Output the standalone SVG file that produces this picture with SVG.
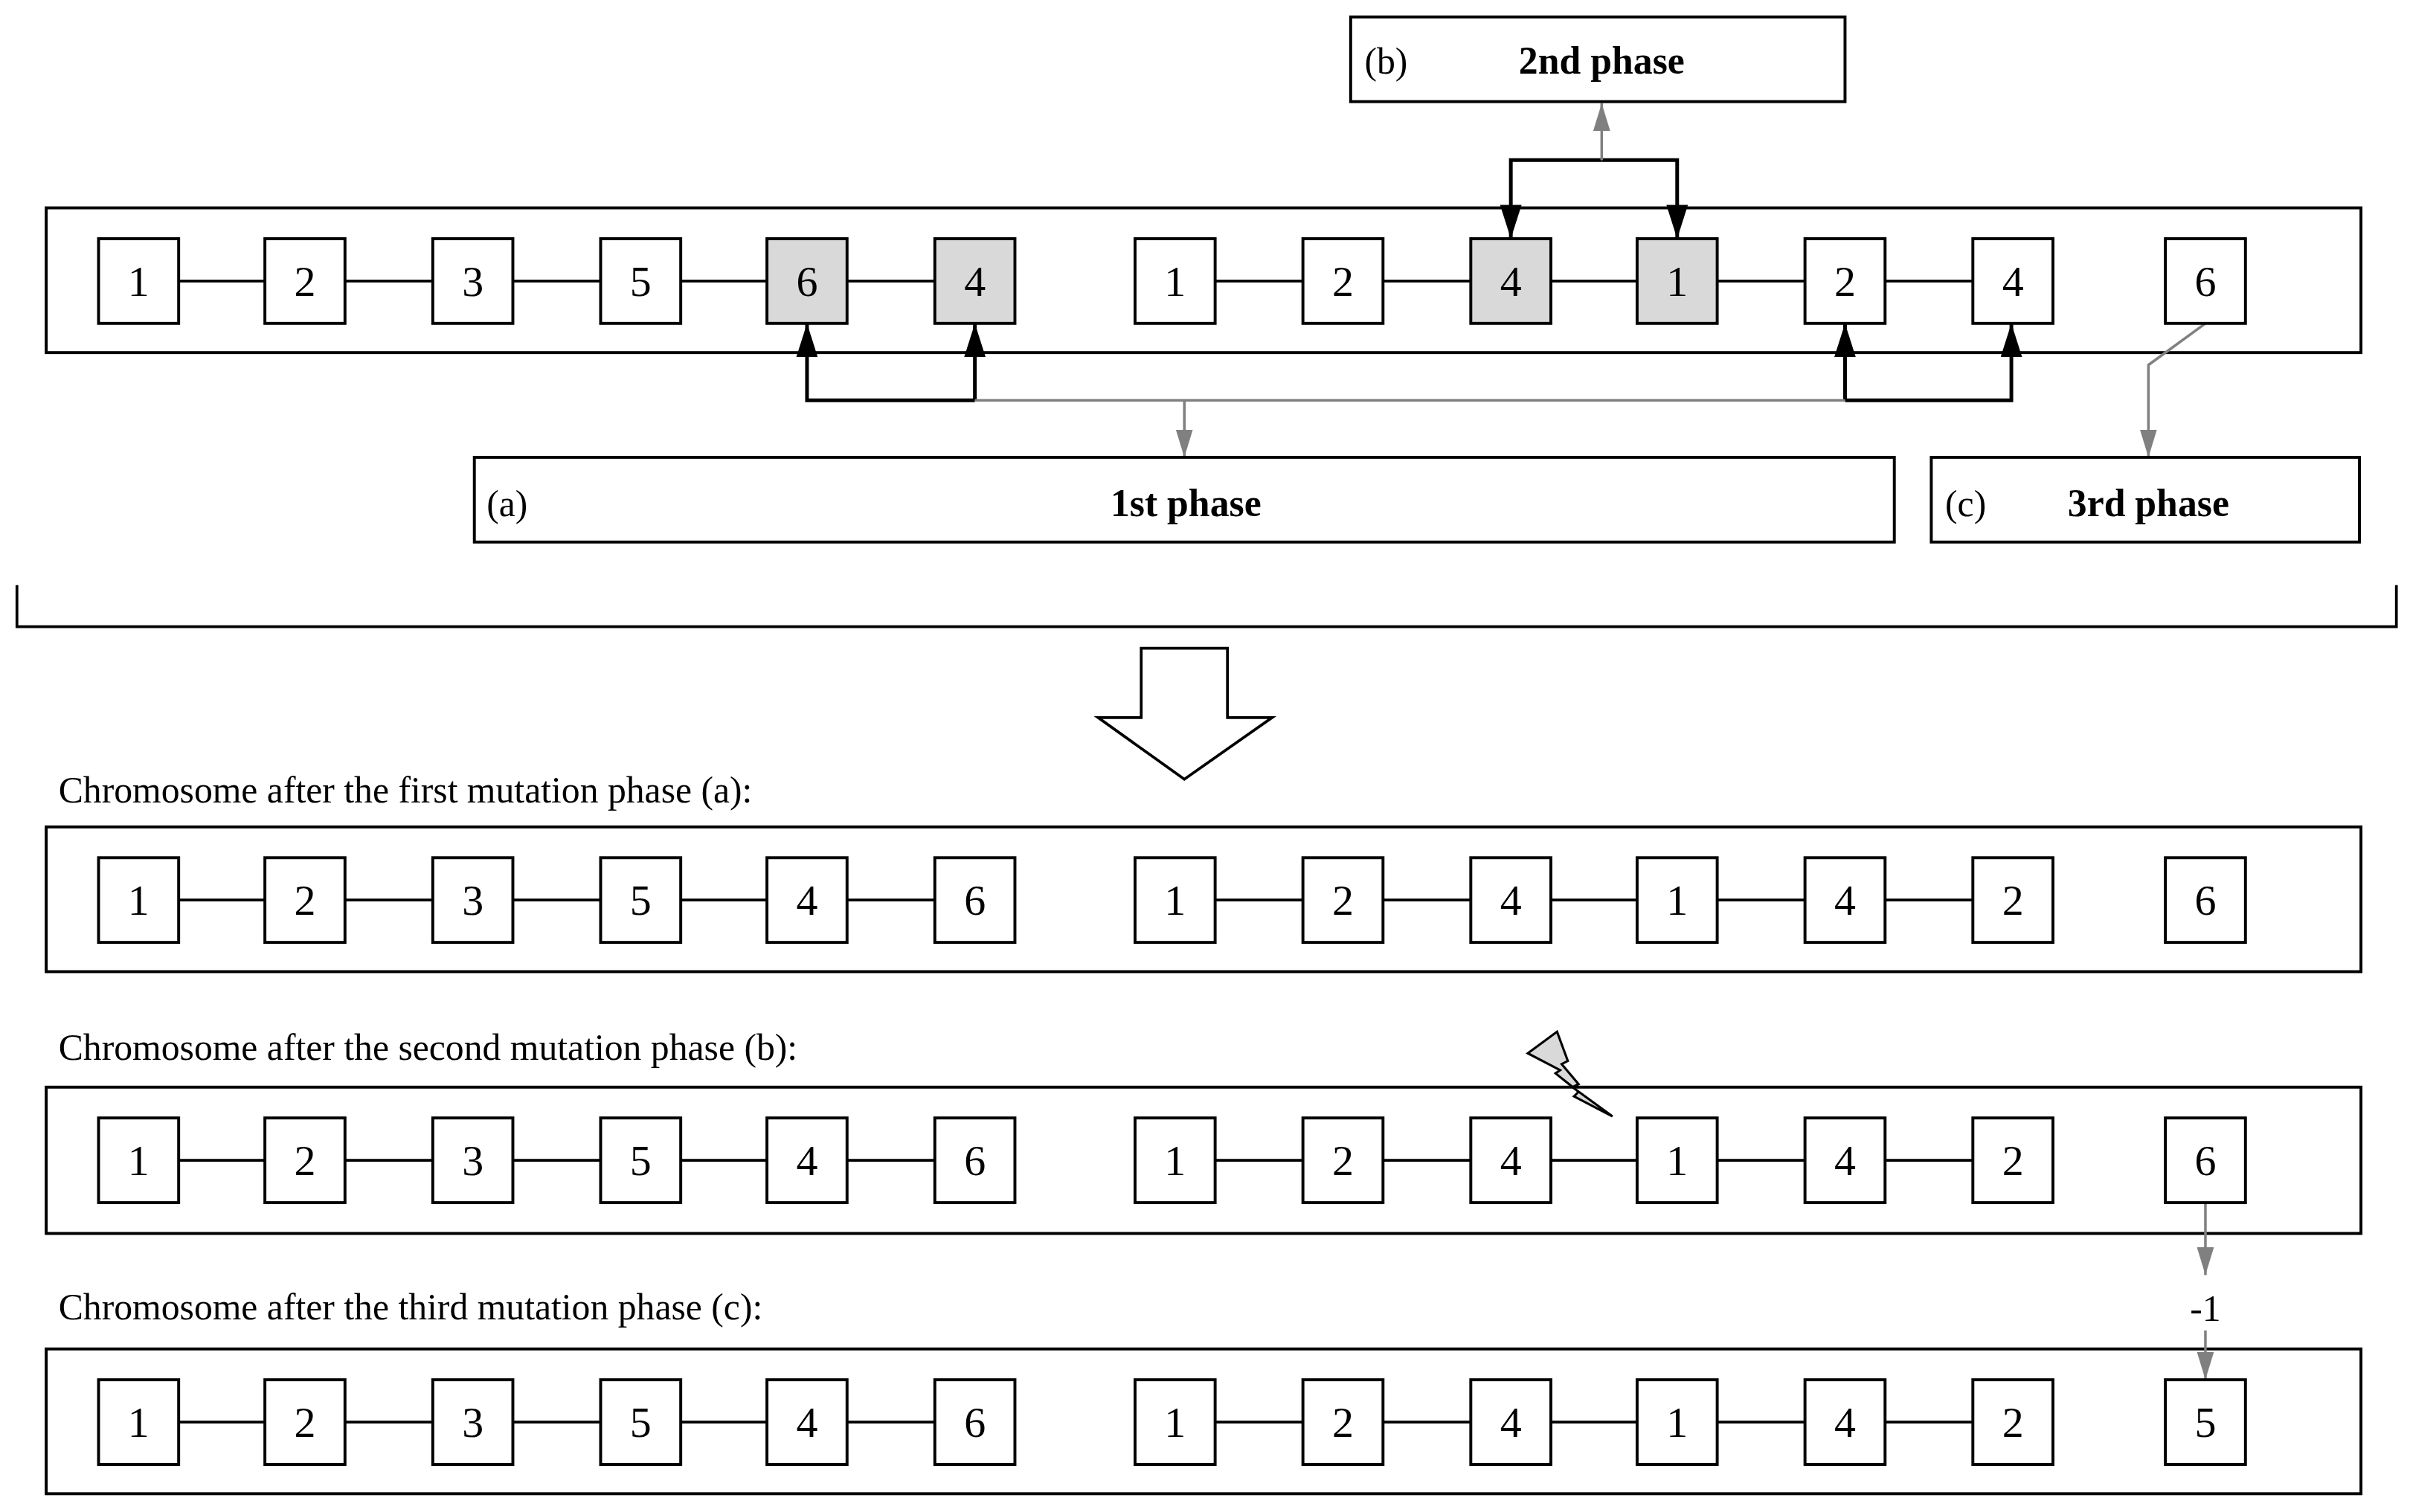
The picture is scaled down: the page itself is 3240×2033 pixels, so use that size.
<svg xmlns="http://www.w3.org/2000/svg" width="3240" height="2033" viewBox="0 0 3240 2033">
<style>
.box{fill:#fff;stroke:#000;stroke-width:1.9}
.c{fill:#fff;stroke:#000;stroke-width:1.9}
.g{fill:#d9d9d9;stroke:#000;stroke-width:1.9}
.n{font-family:"Liberation Serif",serif;font-size:28px;text-anchor:middle}
.l{font-family:"Liberation Serif",serif;font-size:24px}
.b{font-family:"Liberation Serif",serif;font-size:25px;font-weight:bold;text-anchor:middle}
.k{stroke:#000;stroke-width:1.8;fill:none}
.kb{stroke:#000;stroke-width:2.4;fill:none}
.gr{stroke:#808080;stroke-width:1.7;fill:none}
</style>
<defs>
<marker id="ab" markerUnits="userSpaceOnUse" viewBox="0 0 10 10" preserveAspectRatio="none" refX="10" refY="5" markerWidth="22" markerHeight="14" orient="auto"><path d="M0,0L10,5L0,10z" fill="#000"/></marker>
<marker id="ag" markerUnits="userSpaceOnUse" viewBox="0 0 10 10" preserveAspectRatio="none" refX="10" refY="5" markerWidth="18" markerHeight="11" orient="auto"><path d="M0,0L10,5L0,10z" fill="#808080"/></marker>
</defs>
<rect width="3240" height="2033" fill="#fff"/>
<g transform="scale(2.0705)">
<g id="frames">
<rect x="30" y="135" width="1503" height="94" fill="none" stroke="#000" stroke-width="1.9"/>
<rect class="box" x="30" y="537" width="1503" height="94"/>
<rect class="box" x="30" y="706" width="1503" height="95"/>
<rect class="box" x="30" y="876" width="1503" height="94"/>
<path class="k" d="M11,380V407H1556V380"/>
<path d="M741,421H797V466H826L769,506L713,466H741Z" fill="#fff" stroke="#000" stroke-width="1.8"/>
</g>
<g id="connectors">
<g class="k">
<path d="M116,182.5H172M224,182.5H281M333,182.5H390M442,182.5H498M550,182.5H607M789,182.5H846M898,182.5H955M1007,182.5H1063M1115,182.5H1172M1224,182.5H1281"/>
<path d="M116,584.5H172M224,584.5H281M333,584.5H390M442,584.5H498M550,584.5H607M789,584.5H846M898,584.5H955M1007,584.5H1063M1115,584.5H1172M1224,584.5H1281"/>
<path d="M116,753.5H172M224,753.5H281M333,753.5H390M442,753.5H498M550,753.5H607M789,753.5H846M898,753.5H955M1007,753.5H1063M1115,753.5H1172M1224,753.5H1281"/>
<path d="M116,923.5H172M224,923.5H281M333,923.5H390M442,923.5H498M550,923.5H607M789,923.5H846M898,923.5H955M1007,923.5H1063M1115,923.5H1172M1224,923.5H1281"/>
</g>
<path class="kb" d="M1040,104H981V155" marker-end="url(#ab)"/>
<path class="kb" d="M1040,104H1089V155" marker-end="url(#ab)"/>
<path class="gr" d="M1040,104V67" marker-end="url(#ag)"/>
<path class="kb" d="M633,260H524V210" marker-end="url(#ab)"/>
<path class="kb" d="M633,260V210" marker-end="url(#ab)"/>
<path class="kb" d="M1198,260H1306V210" marker-end="url(#ab)"/>
<path class="kb" d="M1198,260V210" marker-end="url(#ab)"/>
<path class="gr" d="M633,260H1198"/>
<path class="gr" d="M769,260V297" marker-end="url(#ag)"/>
<path class="gr" d="M1432,210L1395,237V297" marker-end="url(#ag)"/>
<path class="gr" d="M1432,781V828" marker-end="url(#ag)"/>
<path class="gr" d="M1432,864V896" marker-end="url(#ag)"/>
</g>
<g id="phase-b"><rect class="box" x="877" y="11" width="321" height="55"/><text class="l" x="886" y="48">(b)</text><text class="b" x="1040" y="48">2nd phase</text></g>
<g id="phase-a"><rect class="box" x="308" y="297" width="922" height="55"/><text class="l" x="316" y="335">(a)</text><text class="b" x="770" y="335">1st phase</text></g>
<g id="phase-c"><rect class="box" x="1254" y="297" width="278" height="55"/><text class="l" x="1263" y="335">(c)</text><text class="b" x="1395" y="335">3rd phase</text></g>
<g id="row0">
<rect class="c" x="64" y="155" width="52" height="55"/><text class="n" x="90" y="192">1</text>
<rect class="c" x="172" y="155" width="52" height="55"/><text class="n" x="198" y="192">2</text>
<rect class="c" x="281" y="155" width="52" height="55"/><text class="n" x="307" y="192">3</text>
<rect class="c" x="390" y="155" width="52" height="55"/><text class="n" x="416" y="192">5</text>
<rect class="g" x="498" y="155" width="52" height="55"/><text class="n" x="524" y="192">6</text>
<rect class="g" x="607" y="155" width="52" height="55"/><text class="n" x="633" y="192">4</text>
<rect class="c" x="737" y="155" width="52" height="55"/><text class="n" x="763" y="192">1</text>
<rect class="c" x="846" y="155" width="52" height="55"/><text class="n" x="872" y="192">2</text>
<rect class="g" x="955" y="155" width="52" height="55"/><text class="n" x="981" y="192">4</text>
<rect class="g" x="1063" y="155" width="52" height="55"/><text class="n" x="1089" y="192">1</text>
<rect class="c" x="1172" y="155" width="52" height="55"/><text class="n" x="1198" y="192">2</text>
<rect class="c" x="1281" y="155" width="52" height="55"/><text class="n" x="1307" y="192">4</text>
<rect class="c" x="1406" y="155" width="52" height="55"/><text class="n" x="1432" y="192">6</text>
</g>
<text class="l" x="38" y="521">Chromosome after the first mutation phase (a):</text>
<g id="row1">
<rect class="c" x="64" y="557" width="52" height="55"/><text class="n" x="90" y="594">1</text>
<rect class="c" x="172" y="557" width="52" height="55"/><text class="n" x="198" y="594">2</text>
<rect class="c" x="281" y="557" width="52" height="55"/><text class="n" x="307" y="594">3</text>
<rect class="c" x="390" y="557" width="52" height="55"/><text class="n" x="416" y="594">5</text>
<rect class="c" x="498" y="557" width="52" height="55"/><text class="n" x="524" y="594">4</text>
<rect class="c" x="607" y="557" width="52" height="55"/><text class="n" x="633" y="594">6</text>
<rect class="c" x="737" y="557" width="52" height="55"/><text class="n" x="763" y="594">1</text>
<rect class="c" x="846" y="557" width="52" height="55"/><text class="n" x="872" y="594">2</text>
<rect class="c" x="955" y="557" width="52" height="55"/><text class="n" x="981" y="594">4</text>
<rect class="c" x="1063" y="557" width="52" height="55"/><text class="n" x="1089" y="594">1</text>
<rect class="c" x="1172" y="557" width="52" height="55"/><text class="n" x="1198" y="594">4</text>
<rect class="c" x="1281" y="557" width="52" height="55"/><text class="n" x="1307" y="594">2</text>
<rect class="c" x="1406" y="557" width="52" height="55"/><text class="n" x="1432" y="594">6</text>
</g>
<text class="l" x="38" y="688">Chromosome after the second mutation phase (b):</text>
<g id="row2">
<rect class="c" x="64" y="726" width="52" height="55"/><text class="n" x="90" y="763">1</text>
<rect class="c" x="172" y="726" width="52" height="55"/><text class="n" x="198" y="763">2</text>
<rect class="c" x="281" y="726" width="52" height="55"/><text class="n" x="307" y="763">3</text>
<rect class="c" x="390" y="726" width="52" height="55"/><text class="n" x="416" y="763">5</text>
<rect class="c" x="498" y="726" width="52" height="55"/><text class="n" x="524" y="763">4</text>
<rect class="c" x="607" y="726" width="52" height="55"/><text class="n" x="633" y="763">6</text>
<rect class="c" x="737" y="726" width="52" height="55"/><text class="n" x="763" y="763">1</text>
<rect class="c" x="846" y="726" width="52" height="55"/><text class="n" x="872" y="763">2</text>
<rect class="c" x="955" y="726" width="52" height="55"/><text class="n" x="981" y="763">4</text>
<rect class="c" x="1063" y="726" width="52" height="55"/><text class="n" x="1089" y="763">1</text>
<rect class="c" x="1172" y="726" width="52" height="55"/><text class="n" x="1198" y="763">4</text>
<rect class="c" x="1281" y="726" width="52" height="55"/><text class="n" x="1307" y="763">2</text>
<rect class="c" x="1406" y="726" width="52" height="55"/><text class="n" x="1432" y="763">6</text>
</g>
<g id="lightning"><path d="M992,684L1011,670L1018,689L1014,691L1025,704L1021,706L1047,725L1022,712L1025,709L1010,697L1013,695Z" fill="#d9d9d9" stroke="#000" stroke-width="1.5"/></g>
<text class="l" x="38" y="857">Chromosome after the third mutation phase (c):</text>
<text class="n" x="1432" y="858" style="font-size:24px">-1</text>
<g id="row3">
<rect class="c" x="64" y="896" width="52" height="55"/><text class="n" x="90" y="933">1</text>
<rect class="c" x="172" y="896" width="52" height="55"/><text class="n" x="198" y="933">2</text>
<rect class="c" x="281" y="896" width="52" height="55"/><text class="n" x="307" y="933">3</text>
<rect class="c" x="390" y="896" width="52" height="55"/><text class="n" x="416" y="933">5</text>
<rect class="c" x="498" y="896" width="52" height="55"/><text class="n" x="524" y="933">4</text>
<rect class="c" x="607" y="896" width="52" height="55"/><text class="n" x="633" y="933">6</text>
<rect class="c" x="737" y="896" width="52" height="55"/><text class="n" x="763" y="933">1</text>
<rect class="c" x="846" y="896" width="52" height="55"/><text class="n" x="872" y="933">2</text>
<rect class="c" x="955" y="896" width="52" height="55"/><text class="n" x="981" y="933">4</text>
<rect class="c" x="1063" y="896" width="52" height="55"/><text class="n" x="1089" y="933">1</text>
<rect class="c" x="1172" y="896" width="52" height="55"/><text class="n" x="1198" y="933">4</text>
<rect class="c" x="1281" y="896" width="52" height="55"/><text class="n" x="1307" y="933">2</text>
<rect class="c" x="1406" y="896" width="52" height="55"/><text class="n" x="1432" y="933">5</text>
</g>
</g>
</svg>
